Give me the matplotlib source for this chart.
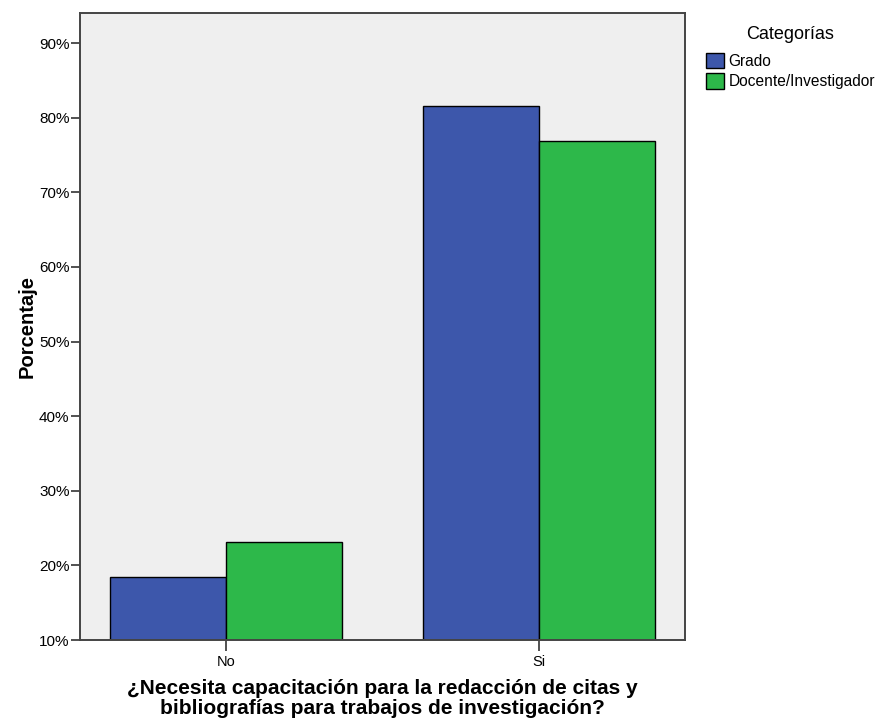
import numpy as np
import matplotlib.pyplot as plt
from matplotlib.patches import Patch

plt.rcParams['font.family'] = ['Liberation Sans', 'DejaVu Sans']

# ── Data ─────────────────────────────────────
categories = ["No", "Si"]
grado      = [18.4, 81.6]
docente    = [23.1, 76.9]
series     = ["Grado", "Docente/Investigador"]
colors     = ["#3d57ab", "#2db84a"]
yticks     = [10, 20, 30, 40, 50, 60, 70, 80, 90]

# ── Plot ─────────────────────────────────────
fig = plt.figure(figsize=(8.84, 7.21), dpi=100)
ax = fig.add_axes([80 / 884, 1 - 640 / 721, 605 / 884, (640 - 12.5) / 721])
ax.set_facecolor("#efefef")

x = np.arange(len(categories))
w = 0.37
ax.bar(x - w / 2, grado, w, bottom=0, color=colors[0], edgecolor="black", linewidth=1)
ax.bar(x + w / 2, docente, w, bottom=0, color=colors[1], edgecolor="black", linewidth=1)

ax.set_xlim(-0.467, 1.467)
ax.set_ylim(10, 94.1)
ax.set_xticks(x)
ax.set_xticklabels(categories, fontsize=10.5)
ax.set_yticks(yticks)
ax.set_yticklabels([f"{v}%" for v in yticks], fontsize=11)
ax.tick_params(direction="out", length=6.5, width=1.2, color="#333333", pad=1)
ax.tick_params(axis="x", length=8, pad=3)

for s in ax.spines.values():
    s.set_color("#444444")
    s.set_linewidth(1.4)

ax.set_ylabel("Porcentaje", fontsize=14.5, fontweight="bold", labelpad=2)
ax.set_xlabel("¿Necesita capacitación para la redacción de citas y\nbibliografías para trabajos de investigación?",
              fontsize=15, fontweight="bold", labelpad=7, linespacing=1.05)

handles = [Patch(facecolor=c, edgecolor="black", linewidth=1) for c in colors]
leg = fig.legend(handles, series, title="Categorías", loc="upper left",
                 bbox_to_anchor=(698 / 884, 1 - 18 / 721), frameon=False,
                 fontsize=11.2, title_fontsize=13, handlelength=1.15, handleheight=1.2,
                 handletextpad=0.3, labelspacing=0.25, borderpad=0)
leg._legend_box.sep = 7

plt.savefig("out.png", dpi=100)
